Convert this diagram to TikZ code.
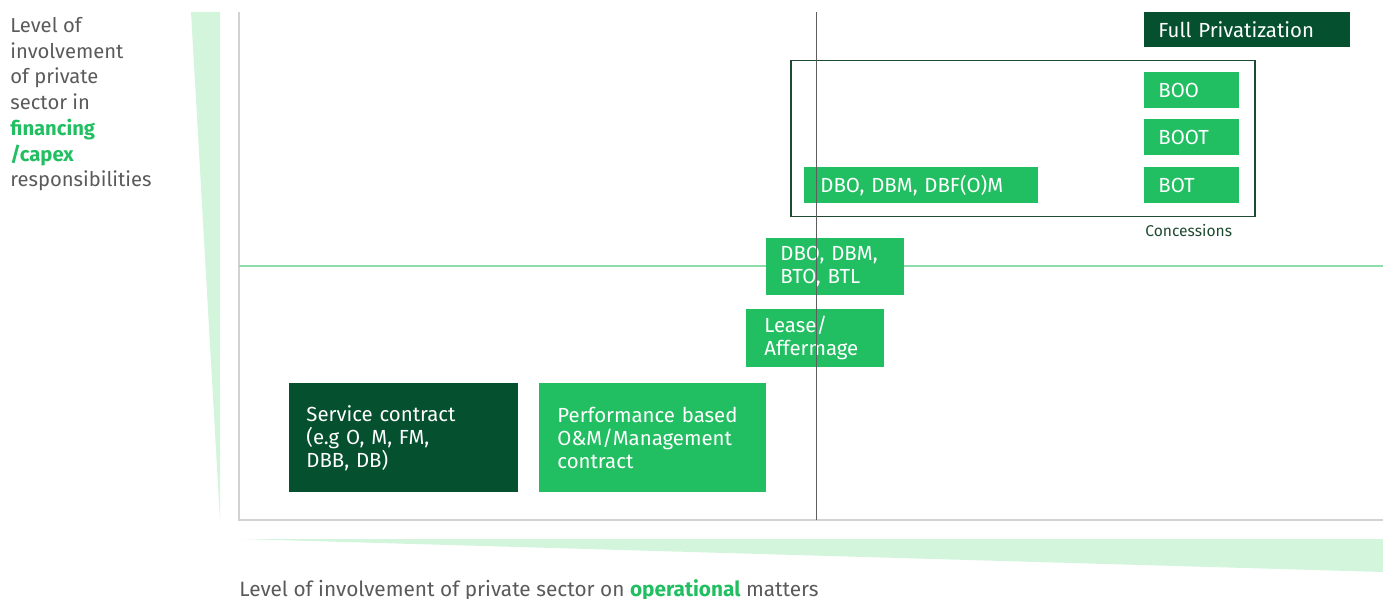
\documentclass[tikz,border=0pt]{standalone}
\usepackage{fontspec}
\setmainfont{Fira Sans}
\definecolor{brand}{HTML}{21BF61}
\definecolor{deep}{HTML}{05502F}
\definecolor{pale}{HTML}{D3F5DC}
\definecolor{axisgray}{HTML}{D2D2D2}
\definecolor{textgray}{HTML}{5A5A5A}
\definecolor{midline}{HTML}{8FDDAA}
\definecolor{divider}{HTML}{5E5E5E}
\definecolor{framegreen}{HTML}{1E4A30}
\begin{document}
\begin{tikzpicture}[x=0.5pt,y=-0.5pt,
  gbox/.style={fill=brand, text=white, inner ysep=0pt, align=left,
    anchor=north west, font=\fontsize{10.2}{11.5}\selectfont},
  dbox/.style={gbox, fill=deep},
  axislabel/.style={text=textgray, inner sep=0pt, align=left}]
\useasboundingbox (0,0) rectangle (1383,599);

% axis wedges
\fill[pale] (191,12) -- (220,12) -- (220,520) -- cycle;
\fill[pale] (241,539) -- (1383,539) -- (1383,572) -- cycle;

% axes and quadrant lines
\coordinate (origin) at (239,520);
\coordinate (ytop) at (239,12);
\coordinate (xend) at (1383,520);
\coordinate (midL) at (239,266);
\coordinate (midR) at (1383,266);
\coordinate (divT) at (816,12);
\coordinate (divB) at (816,520);
\draw[axisgray, line width=0.8pt] (ytop) -- (origin) -- (xend);
\draw[midline, line width=1pt] (midL) -- (midR);

% concessions frame
\node[draw=framegreen, line width=0.75pt, anchor=north west, inner sep=0pt,
  minimum width=232pt, minimum height=78pt] (conc) at (790,60) {};
\node[anchor=base west, inner sep=0pt, text=framegreen,
  font=\fontsize{7.8}{9}\selectfont] (conclabel) at (1145,236) {Concessions};

% contract boxes
\node[dbox, text width=89pt, inner xsep=7pt, minimum height=17.5pt] (full) at (1144,12) {Full Privatization};
\node[gbox, text width=33.5pt, inner xsep=7pt, minimum height=18pt] (boo) at (1144,72) {BOO};
\node[gbox, text width=33.5pt, inner xsep=7pt, minimum height=18pt] (boot) at (1144,119) {BOOT};
\node[gbox, text width=33.5pt, inner xsep=7pt, minimum height=18pt] (bot) at (1144,167) {BOT};
\node[gbox, text width=101pt, inner xsep=8pt, minimum height=18pt] (dbf) at (804,167) {DBO, DBM, DBF(O)M};
\node[gbox, text width=55pt, inner xsep=7pt, minimum height=28.5pt] (bto) at (766,238) {DBO, DBM,\\BTO, BTL};
\node[gbox, text width=51pt, inner xsep=9pt, minimum height=29pt] (lease) at (746,309) {Lease/\\Affermage};
\node[dbox, text width=97.5pt, inner xsep=8.5pt, minimum height=54.5pt] (service) at (289,383) {Service contract\\(e.g O, M, FM,\\DBB, DB)};
\node[gbox, text width=95.5pt, inner xsep=9pt, minimum height=54.5pt] (perf) at (539,383) {Performance based\\O\&M/Management\\contract};

% vertical divider on top of the boxes
\draw[divider, line width=0.5pt] (divT) -- (divB);

% axis labels
\node[axislabel, anchor=north west, font=\fontsize{10.1}{12.85}\selectfont] (ylabel) at (10,17)
  {Level of\\involvement\\of private\\sector in\\\textcolor{brand}{\bfseries financing}\\\textcolor{brand}{\bfseries /capex}\\responsibilities};
\node[axislabel, anchor=base west, font=\fontsize{10.4}{12}\selectfont] (xlabel) at (239,596)
  {Level of involvement of private sector on \textcolor{brand}{\bfseries operational} matters};
\end{tikzpicture}
\end{document}
